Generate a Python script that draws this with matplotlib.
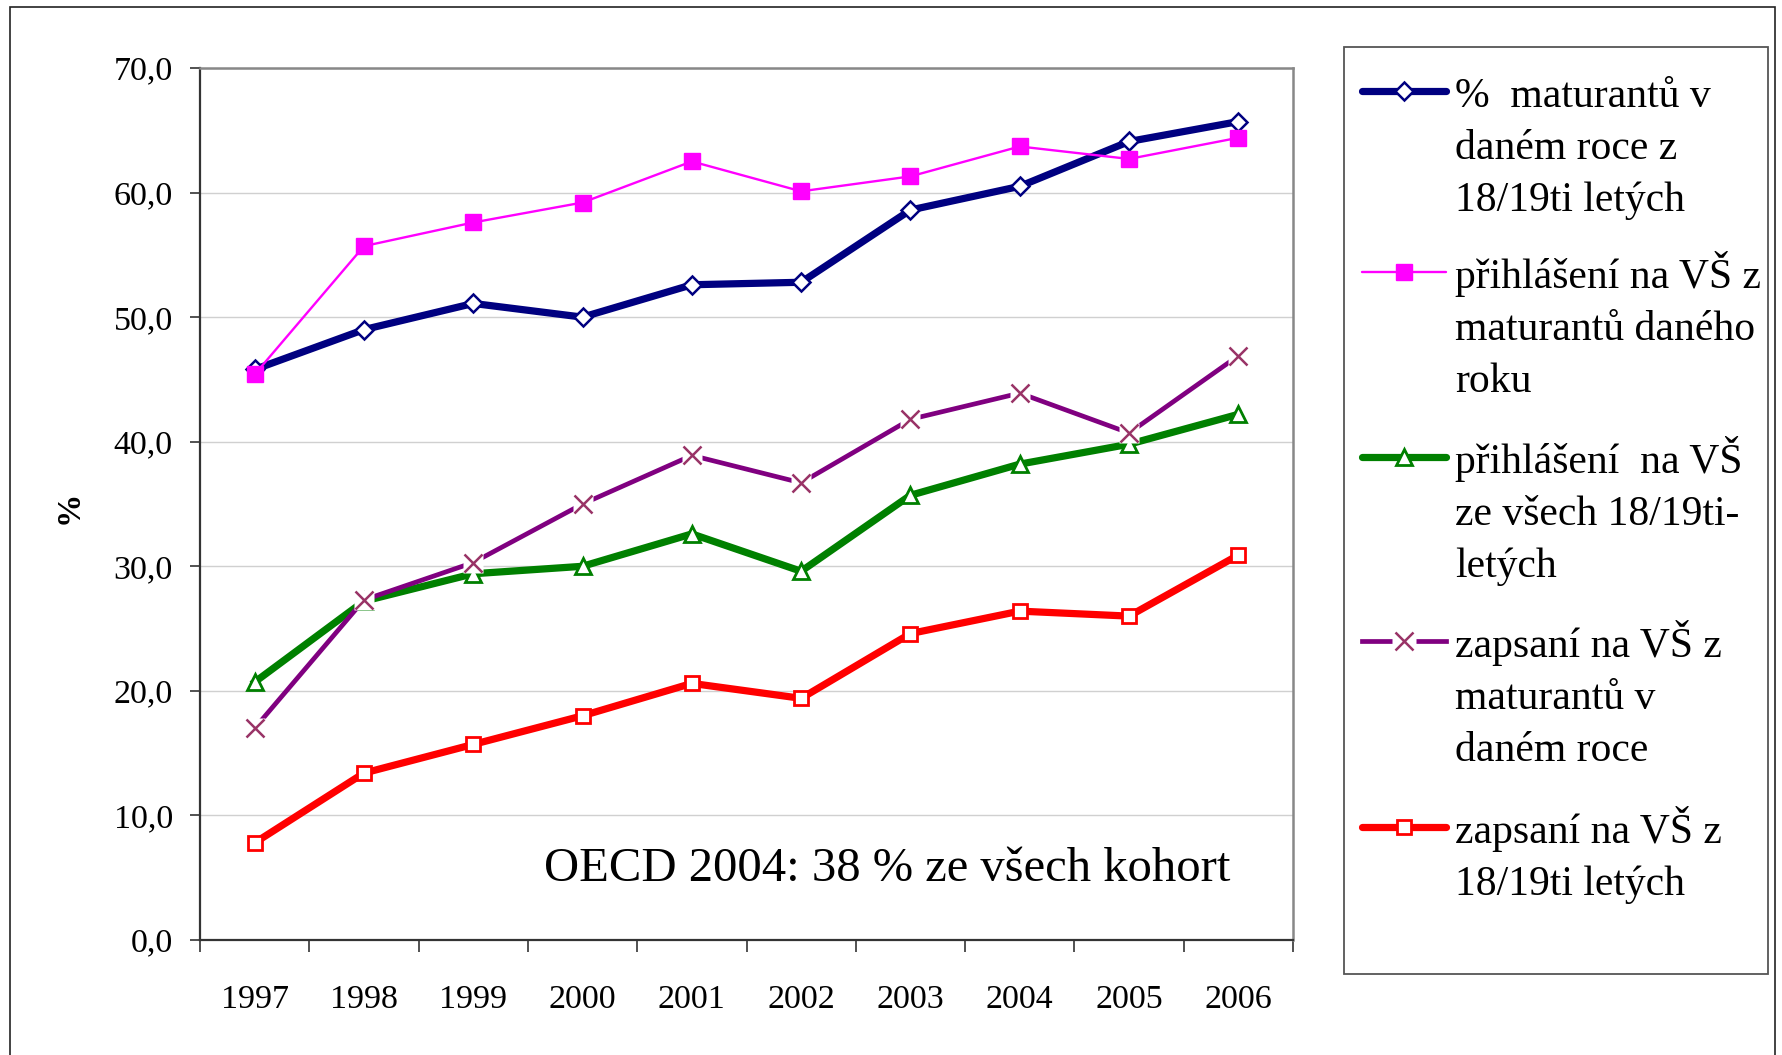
import matplotlib
matplotlib.use("Agg")
import matplotlib.pyplot as plt
from matplotlib.lines import Line2D
from matplotlib.patches import Rectangle
import numpy as np

# data (%)
years = ["1997", "1998", "1999", "2000", "2001", "2002", "2003", "2004", "2005", "2006"]
maturanti = [45.8, 49.0, 51.1, 50.0, 52.6, 52.8, 58.6, 60.5, 64.1, 65.7]
prihlaseni_z_maturantu = [45.4, 55.7, 57.6, 59.2, 62.5, 60.1, 61.3, 63.7, 62.7, 64.4]
prihlaseni_ze_vsech = [20.7, 27.2, 29.4, 30.0, 32.6, 29.6, 35.7, 38.2, 39.8, 42.2]
zapsani_z_maturantu = [17.0, 27.3, 30.3, 35.0, 38.9, 36.7, 41.8, 43.9, 40.7, 46.9]
zapsani_ze_vsech = [7.8, 13.4, 15.7, 18.0, 20.6, 19.4, 24.6, 26.4, 26.0, 30.9]

labels = [
    "%  maturantů v\ndaném roce z\n18/19ti letých",
    "přihlášení na VŠ z\nmaturantů daného\nroku",
    "přihlášení  na VŠ\nze všech 18/19ti-\nletých",
    "zapsaní na VŠ z\nmaturantů v\ndaném roce",
    "zapsaní na VŠ z\n18/19ti letých",
]
note = "OECD 2004: 38 % ze všech kohort"

W, H = 1782, 1055
DPI = 100
FONT_TICK = 24.5
FONT_LEGEND = 30
FONT_NOTE = 35
LEGEND_LINE_PX = 52

STYLES = [
    dict(color="#000080", lw=5.2, marker="D", ms=9, mfc="white", mec="#000080", mew=1.8),
    dict(color="#FF00FF", lw=1.7, marker="s", ms=11, mfc="#FF00FF", mec="#FF00FF", mew=1.0),
    dict(color="#008000", lw=5.2, marker="^", ms=12, mfc="white", mec="#008000", mew=2.0),
    dict(color="#800080", lw=3.4, marker="x", ms=13, mfc="none", mec="#993366", mew=1.8),
    dict(color="#FF0000", lw=5.2, marker="s", ms=10.5, mfc="white", mec="#FF0000", mew=2.0),
]
GAP_SERIES = 3  # the cross markers sit on a white square that cuts the line

plt.rcParams["font.family"] = ["Liberation Serif", "DejaVu Serif"]


def fx(px):
    return px / W


def fy(py):
    return 1 - py / H


fig = plt.figure(figsize=(W / DPI, H / DPI), dpi=DPI)
ax = fig.add_axes([fx(200), fy(940), (1293 - 200) / W, (940 - 68) / H])

x = np.arange(len(years))
all_series = [maturanti, prihlaseni_z_maturantu, prihlaseni_ze_vsech,
              zapsani_z_maturantu, zapsani_ze_vsech]

for i, (vals, st) in enumerate(zip(all_series, STYLES)):
    z = 3 + i
    if i == GAP_SERIES:
        ax.plot(x, vals, color=st["color"], lw=st["lw"], zorder=z)
        ax.plot(x, vals, ls="none", marker="s", ms=15, mfc="white", mec="none", zorder=z)
        ax.plot(x, vals, ls="none", marker=st["marker"], ms=st["ms"],
                mec=st["mec"], mew=st["mew"], zorder=z)
    else:
        ax.plot(x, vals, zorder=z, **st)

ax.set_xlim(-0.5, len(years) - 0.5)
ax.set_ylim(0, 70)
yt = np.arange(0, 71, 10)
ax.set_yticks(yt)
ax.set_yticklabels([f"{v:.1f}".replace(".", ",") for v in yt])
ax.set_xticks(x)
ax.set_xticklabels(years)
ax.set_xticks(np.arange(-0.5, len(years), 1), minor=True)

ax.tick_params(axis="x", which="major", length=0, pad=32, labelsize=FONT_TICK)
ax.tick_params(axis="x", which="minor", length=8.6, width=1.2, color="#333333", direction="out")
ax.tick_params(axis="y", length=7.5, width=1.2, color="#333333", pad=12,
               labelsize=FONT_TICK, direction="out")

ax.grid(axis="y", color="#D0D0D0", lw=1)
ax.set_axisbelow(True)
for side in ("top", "right"):
    ax.spines[side].set_color("#888888")
    ax.spines[side].set_linewidth(1.8)
for side in ("left", "bottom"):
    ax.spines[side].set_color("#333333")
    ax.spines[side].set_linewidth(1.6)

ax.text(0.6286, 0.0677, note, transform=ax.transAxes, ha="center", va="baseline",
        fontsize=FONT_NOTE)

fig.text(fx(69), fy(507), "%", rotation=90, ha="center", va="center",
         fontsize=24, fontweight="bold")

# outer chart frame
fig.add_artist(Rectangle((fx(10), fy(1062)), (1775 - 10) / W, (1062 - 7) / H,
                         transform=fig.transFigure, fill=False, ec="#222222", lw=1.2))

# legend, handle on the first line of each entry
fig.add_artist(Rectangle((fx(1344), fy(974)), (1768 - 1344) / W, (974 - 47) / H,
                         transform=fig.transFigure, fill=False, ec="#555555", lw=1.3))
baselines = [107, 288, 473, 657, 843]
for i, (lab, st, base) in enumerate(zip(labels, STYLES, baselines)):
    hy = fy(base - 16)
    hx = [fx(1362), fx(1404), fx(1446)]
    if i == GAP_SERIES:
        fig.add_artist(Line2D(hx, [hy] * 3, transform=fig.transFigure,
                              color=st["color"], lw=st["lw"]))
        fig.add_artist(Line2D(hx, [hy] * 3, transform=fig.transFigure, ls="none",
                              marker="s", ms=17, mfc="white", mec="none", markevery=[1]))
        fig.add_artist(Line2D(hx, [hy] * 3, transform=fig.transFigure, ls="none",
                              marker=st["marker"], ms=st["ms"], mec=st["mec"],
                              mew=st["mew"], markevery=[1]))
    else:
        fig.add_artist(Line2D(hx, [hy] * 3, transform=fig.transFigure,
                              solid_capstyle="round", markevery=[1], **st))
    for k, line in enumerate(lab.split("\n")):
        fig.text(fx(1455), fy(base + k * LEGEND_LINE_PX), line, ha="left",
                 va="baseline", fontsize=FONT_LEGEND)

fig.savefig("out.png", dpi=DPI)
